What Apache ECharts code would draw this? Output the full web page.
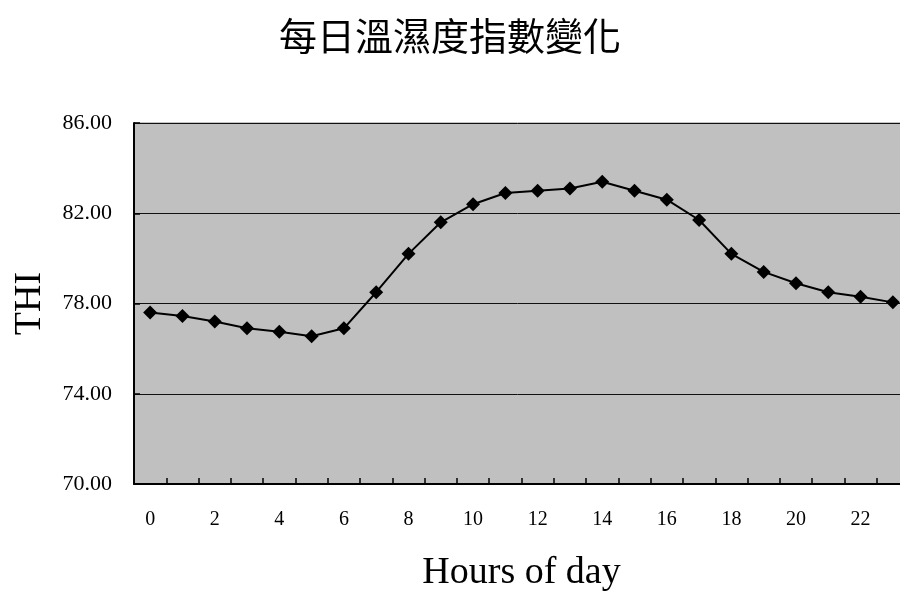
<!DOCTYPE html>
<html>
<head>
<meta charset="utf-8">
<script src="https://cdn.jsdelivr.net/npm/echarts@6/dist/echarts.min.js"></script>
<style>html,body{margin:0;padding:0;background:#fff;}#c{width:900px;height:594px;}</style>
</head>
<body>
<div id="c"></div>
<script>
const titleText = '每日溫濕度指數變化';
const xName = 'Hours of day';
const yName = 'THI';
const hours = ['0','1','2','3','4','5','6','7','8','9','10','11','12','13','14','15','16','17','18','19','20','21','22','23'];
const thi = [77.6, 77.45, 77.2, 76.9, 76.75, 76.55, 76.9, 78.5, 80.2, 81.6, 82.4, 82.9, 83.0, 83.1, 83.4, 83.0, 82.6, 81.7, 80.2, 79.4, 78.9, 78.5, 78.3, 78.05];
const yMin = 70, yMax = 86, yStep = 4;

const chart = echarts.init(document.getElementById('c'), null, {renderer: 'canvas'});
chart.setOption({
  animation: false,
  title: {
    text: titleText,
    left: 'center',
    top: 12,
    textStyle: {fontFamily: '"Noto Sans CJK TC"', fontSize: 38, fontWeight: 'normal', color: '#000'}
  },
  grid: {
    left: 134, right: -9, top: 123, bottom: 110,
    outerBoundsMode: 'none',
    containLabel: false,
    show: true, backgroundColor: '#c0c0c0', borderColor: '#888', borderWidth: 1
  },
  xAxis: {
    type: 'category',
    data: hours,
    boundaryGap: true,
    name: xName,
    nameLocation: 'middle',
    nameGap: 70,
    nameTextStyle: {fontFamily: '"Liberation Serif"', fontSize: 38, color: '#000'},
    axisLine: {lineStyle: {color: '#000', width: 2}},
    axisTick: {show: true, inside: true, length: 6, interval: 0, lineStyle: {color: '#000', width: 1.5}},
    axisLabel: {interval: 1, margin: 26, fontFamily: '"Liberation Serif"', fontSize: 20, color: '#000'},
    splitLine: {show: false}
  },
  yAxis: {
    type: 'value',
    min: yMin, max: yMax, interval: yStep,
    name: yName,
    nameLocation: 'middle',
    nameGap: 85,
    nameTextStyle: {fontFamily: '"Liberation Serif"', fontSize: 38, color: '#000'},
    axisLine: {show: true, lineStyle: {color: '#000', width: 2}},
    axisTick: {show: true, inside: true, length: 6, lineStyle: {color: '#000', width: 1.5}},
    axisLabel: {margin: 22, fontFamily: '"Liberation Serif"', fontSize: 22, color: '#000', formatter: v => v.toFixed(2)},
    splitLine: {show: true, lineStyle: {color: '#111', width: 1}}
  },
  series: [{
    type: 'line',
    data: thi,
    symbol: 'diamond',
    symbolSize: 14,
    itemStyle: {color: '#000'},
    lineStyle: {color: '#000', width: 2}
  }]
});
</script>
</body>
</html>
